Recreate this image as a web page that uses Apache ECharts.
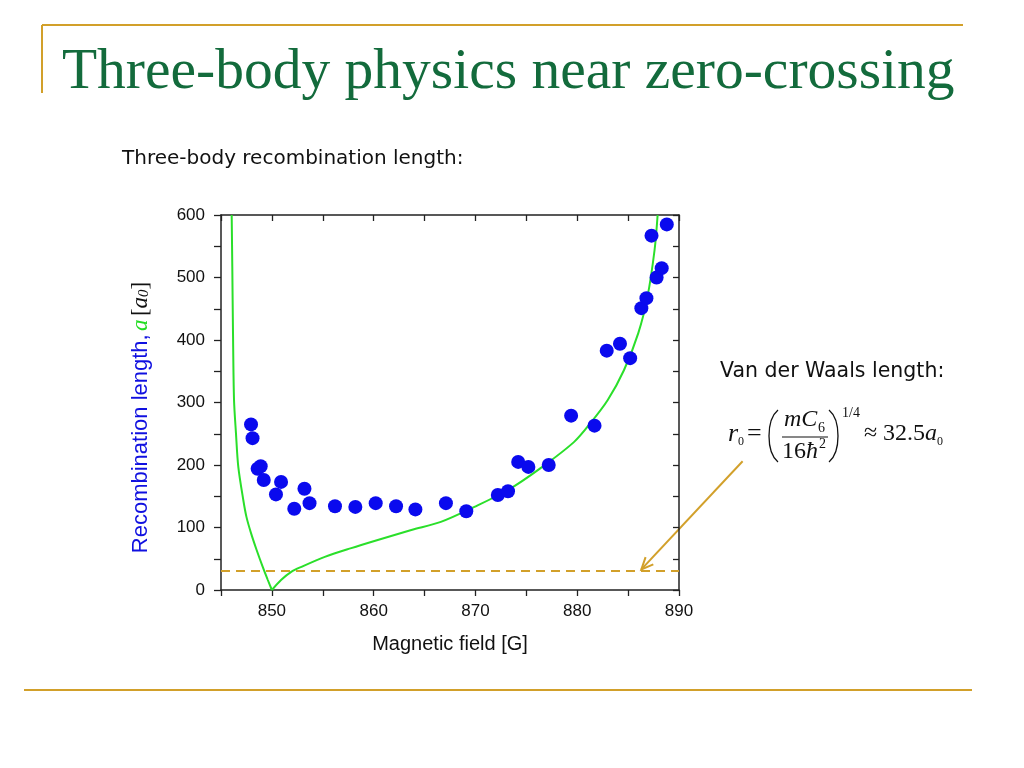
<!DOCTYPE html>
<html>
<head>
<meta charset="utf-8">
<style>
html,body{margin:0;padding:0;background:#fff;}
#main{width:1024px;height:768px;}
</style>
<script src="https://cdn.jsdelivr.net/npm/echarts@6/dist/echarts.min.js"></script>
</head>
<body>
<div id="main"></div>
<script>
// ---- data ----
const fieldG = [847.95,848.1,848.6,848.9,849.2,850.4,850.9,852.2,853.2,853.7,856.2,858.2,860.2,862.2,864.1,867.1,869.1,872.2,873.2,874.2,875.2,877.2,879.4,881.7,882.9,884.2,885.2,886.3,886.8,887.3,887.8,888.3,888.8];
const lengthA0 = [265,243,194,198,176,153,173,130,162,139,134,133,139,134,129,139,126,152,158,205,197,200,279,263,383,394,371,451,467,567,500,515,585];

const fitLeftB = [846.05,846.11,846.18,846.28,846.47,846.7,847.19,847.5,847.95,848.5,849.1,849.6,850.0];
const fitLeftA = [600,517,411,304,251,197,144,117,91,64,37,16,0];
const fitRightB = [850.0,850.9,851.9,852.9,855.2,857.8,860.4,863.7,866.6,869.9,873.2,876.4,879.7,881.3,883.0,884.6,886.0,886.9,887.6,887.9];
const fitRightA = [0,16,29,37,53,67,80,96,109,133,160,195,237,267,304,352,411,469,544,600];

const vdwLength = 31;
const arrowFrom = [896.25, 206];
const arrowTo = [886.3, 33];

const xTicks = ['850','860','870','880','890'];
const yTicks = ['0','100','200','300','400','500','600'];

// ---- chart ----
const zip = (a, b) => a.map((v, i) => [v, b[i]]);
const chart = echarts.init(document.getElementById('main'), null, {renderer: 'canvas'});

const axisColor = '#222';
const gold = '#D2A02A';

const baseX = {
  type: 'value', min: 845, max: 890, interval: 5,
  axisLine: {show: true, onZero: false, lineStyle: {color: axisColor, width: 1.5}},
  splitLine: {show: false}
};
const baseY = {
  type: 'value', min: 0, max: 600, interval: 50,
  axisLine: {show: true, onZero: false, lineStyle: {color: axisColor, width: 1.5}},
  splitLine: {show: false}
};

const option = {
  animation: false,
  backgroundColor: '#fff',
  grid: {left: 221, top: 215, width: 458, height: 375, containLabel: false},
  xAxis: [
    Object.assign({}, baseX, {
      position: 'bottom',
      name: 'Magnetic field [G]', nameLocation: 'middle', nameGap: 44,
      nameTextStyle: {fontFamily: 'Liberation Sans', fontSize: 20, color: '#111'},
      axisTick: {show: true, inside: false, length: 6, lineStyle: {color: axisColor, width: 1.3}},
      axisLabel: {
        fontFamily: 'Liberation Sans', fontSize: 17, color: '#111', margin: 13,
        formatter: v => xTicks.indexOf(String(v)) >= 0 ? String(v) : ''
      }
    }),
    Object.assign({}, baseX, {
      position: 'top',
      axisTick: {show: true, inside: true, length: 6, lineStyle: {color: axisColor, width: 1.3}},
      axisLabel: {show: false}
    })
  ],
  yAxis: [
    Object.assign({}, baseY, {
      position: 'left',
      name: '{b|Recombination length,} {g|a} {k|[}{i|a}{s|0}{k|]}',
      nameLocation: 'middle', nameGap: 69, nameRotate: 90,
      nameTextStyle: {
        padding: [0, 30, 0, 0],
        rich: {
          b: {fontFamily: 'Liberation Sans', fontSize: 22, color: '#1010E0'},
          g: {fontFamily: 'Liberation Serif', fontStyle: 'italic', fontSize: 23, color: '#22DD22'},
          k: {fontFamily: 'Liberation Serif', fontSize: 23, color: '#111'},
          i: {fontFamily: 'Liberation Serif', fontStyle: 'italic', fontSize: 23, color: '#111'},
          s: {fontFamily: 'Liberation Serif', fontStyle: 'italic', fontSize: 15, color: '#111', verticalAlign: 'bottom', padding: [6, 0, 0, 0]}
        }
      },
      axisTick: {show: true, inside: false, length: 7, lineStyle: {color: axisColor, width: 1.3}},
      axisLabel: {
        fontFamily: 'Liberation Sans', fontSize: 17, color: '#111', margin: 16,
        formatter: v => yTicks.indexOf(String(v)) >= 0 ? String(v) : ''
      }
    }),
    Object.assign({}, baseY, {
      position: 'right',
      axisTick: {show: true, inside: true, length: 6, lineStyle: {color: axisColor, width: 1.3}},
      axisLabel: {show: false}
    })
  ],
  series: [
    {
      type: 'line', xAxisIndex: 0, yAxisIndex: 0,
      data: zip(fitLeftB, fitLeftA), smooth: 0.3,
      showSymbol: false, symbol: 'none', clip: true,
      lineStyle: {color: '#2ADF2A', width: 2}, z: 3
    },
    {
      type: 'line', xAxisIndex: 0, yAxisIndex: 0,
      data: zip(fitRightB, fitRightA), smooth: 0.3,
      showSymbol: false, symbol: 'none', clip: true,
      lineStyle: {color: '#2ADF2A', width: 2}, z: 3,
      markLine: {
        silent: true, symbol: ['none', 'none'], label: {show: false},
        lineStyle: {color: gold, type: [9, 6], width: 2},
        data: [{yAxis: vdwLength}]
      }
    },
    {
      type: 'scatter', xAxisIndex: 0, yAxisIndex: 0,
      data: zip(fieldG, lengthA0), symbol: 'circle', symbolSize: 14,
      itemStyle: {color: '#0A0AEE', opacity: 1}, z: 4
    }
  ]
};
chart.setOption(option);

// ---- annotations ----
const p0 = chart.convertToPixel({xAxisIndex: 0, yAxisIndex: 0}, arrowFrom);
const p1 = chart.convertToPixel({xAxisIndex: 0, yAxisIndex: 0}, arrowTo);
const ang = Math.atan2(p1[1] - p0[1], p1[0] - p0[0]);
const hl = 13, hw = 0.42;
const h1 = [p1[0] - hl * Math.cos(ang - hw), p1[1] - hl * Math.sin(ang - hw)];
const h2 = [p1[0] - hl * Math.cos(ang + hw), p1[1] - hl * Math.sin(ang + hw)];

const serif = 'Liberation Serif';
const txt = (x, y, s, size, opts) => ({
  type: 'text', silent: true,
  style: Object.assign({x: x, y: y, text: s, fontFamily: serif, fontSize: size, fill: '#111', textAlign: 'left', textVerticalAlign: 'middle'}, opts || {})
});

chart.setOption({
  graphic: [
    // slide frame
    {type: 'line', silent: true, shape: {x1: 42, y1: 25, x2: 963, y2: 25}, style: {stroke: gold, lineWidth: 2}},
    {type: 'line', silent: true, shape: {x1: 42, y1: 25, x2: 42, y2: 93}, style: {stroke: gold, lineWidth: 2}},
    {type: 'line', silent: true, shape: {x1: 24, y1: 690, x2: 972, y2: 690}, style: {stroke: gold, lineWidth: 2}},
    // title
    txt(62, 73, 'Three-body physics near zero-crossing', 57.5, {fill: '#136B3C'}),
    txt(122, 159, 'Three-body recombination length:', 20, {fontFamily: 'DejaVu Sans'}),
    txt(720, 372, 'Van der Waals length:', 20.5, {fontFamily: 'DejaVu Sans'}),
    // formula
    txt(728, 434, 'r', 26, {fontStyle: 'italic'}),
    txt(738, 442, '0', 12),
    txt(747, 434, '=', 26),
    {type: 'bezierCurve', silent: true, shape: {x1: 778, y1: 410, x2: 778, y2: 462, cpx1: 766, cpy1: 420, cpx2: 766, cpy2: 452}, style: {stroke: '#111', lineWidth: 1.3, fill: null}},
    {type: 'bezierCurve', silent: true, shape: {x1: 829, y1: 410, x2: 829, y2: 462, cpx1: 841, cpy1: 420, cpx2: 841, cpy2: 452}, style: {stroke: '#111', lineWidth: 1.3, fill: null}},
    txt(784, 420, 'mC', 24, {fontStyle: 'italic'}),
    txt(818, 428, '6', 14),
    {type: 'line', silent: true, shape: {x1: 782, y1: 437, x2: 828, y2: 437}, style: {stroke: '#111', lineWidth: 1.2}},
    txt(782, 452, '16', 24),
    txt(806, 452, 'ħ', 24, {fontStyle: 'italic'}),
    txt(819, 444, '2', 14),
    txt(842, 413, '1/4', 14),
    txt(864, 434, '≈', 24),
    txt(883, 434, '32.5', 24),
    txt(925, 434, 'a', 24, {fontStyle: 'italic'}),
    txt(937, 442, '0', 12),
    // arrow
    {type: 'line', silent: true, shape: {x1: p0[0], y1: p0[1], x2: p1[0], y2: p1[1]}, style: {stroke: gold, lineWidth: 2}},
    {type: 'polyline', silent: true, shape: {points: [h1, p1, h2]}, style: {stroke: gold, lineWidth: 2, fill: null}}
  ]
});
</script>
</body>
</html>
